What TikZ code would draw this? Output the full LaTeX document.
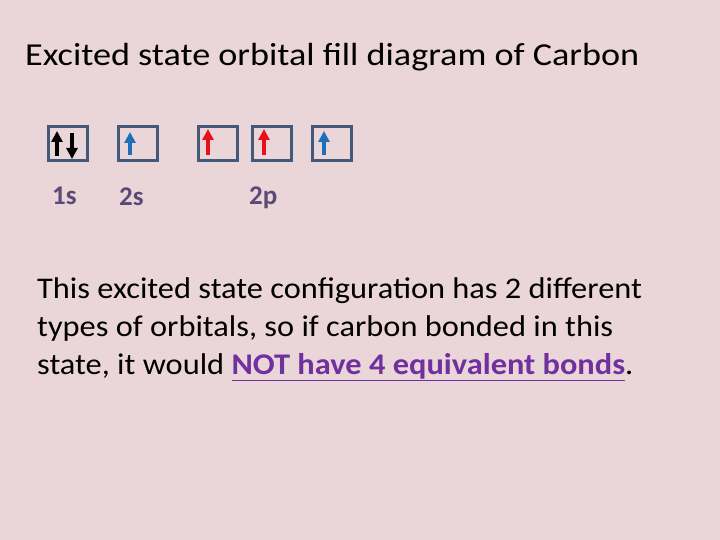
\documentclass[tikz,border=0pt]{standalone}
\usepackage{fontspec}
\setmainfont{Carlito}
\newfontfamily\titlefont[FakeStretch=1.13]{Carlito}
\newfontfamily\bodyfont[FakeStretch=1.08]{Carlito}
\usetikzlibrary{arrows.meta}
\definecolor{bg}{HTML}{EAD6D8}
\definecolor{boxc}{HTML}{44597A}
\definecolor{lab}{HTML}{5B4A78}
\definecolor{purp}{HTML}{7030A0}
\definecolor{ablue}{HTML}{1F6FB8}
\definecolor{ared}{HTML}{E8101A}
\tikzset{
  orb/.style={draw=boxc, line width=3pt, minimum width=39pt, minimum height=34pt, inner sep=0pt},
  lbl/.style={text=lab, font=\fontsize{27}{32}\selectfont\bfseries, anchor=base west, inner sep=0pt},
  spin/.style={line width=3.6pt, -{Triangle[length=11pt,width=11pt]}}
}
\begin{document}
\begin{tikzpicture}[x=1pt,y=-1pt]
\fill[bg] (0,0) rectangle (720,540);
\useasboundingbox (0,0) rectangle (720,540);
\node[anchor=base west, inner sep=0pt, font=\titlefont\fontsize{32}{38}\selectfont] (title) at (25,66) {Excited state orbital fill diagram of Carbon};
\node[orb] (b1) at (68,143.5) {};
\node[orb] (b2) at (138,143.5) {};
\node[orb] (b3) at (218,143.5) {};
\node[orb] (b4) at (272,143.5) {};
\node[orb] (b5) at (332,143.5) {};
\draw[spin, black] (57,156) -- (57,131);
\draw[spin, black] (72,133) -- (72,159);
\draw[spin, ablue] (130,155) -- (130,132);
\draw[spin, ared] (208,155) -- (208,129);
\draw[spin, ared] (264,155) -- (264,129);
\draw[spin, ablue] (324,155) -- (324,131);
\node[lbl] (l1) at (52,205) {1s};
\node[lbl] (l2) at (119,206) {2s};
\node[lbl] (l3) at (249,205) {2p};
\node[anchor=base west, inner sep=0pt, align=left, font=\bodyfont\fontsize{30}{38}\selectfont] (body) at (37,374) {This excited state configuration has 2 different\\types of orbitals, so if carbon bonded in this\\state, it would {\color{purp}\bfseries\underline{NOT have 4 equivalent bonds}}.};
\end{tikzpicture}
\end{document}
